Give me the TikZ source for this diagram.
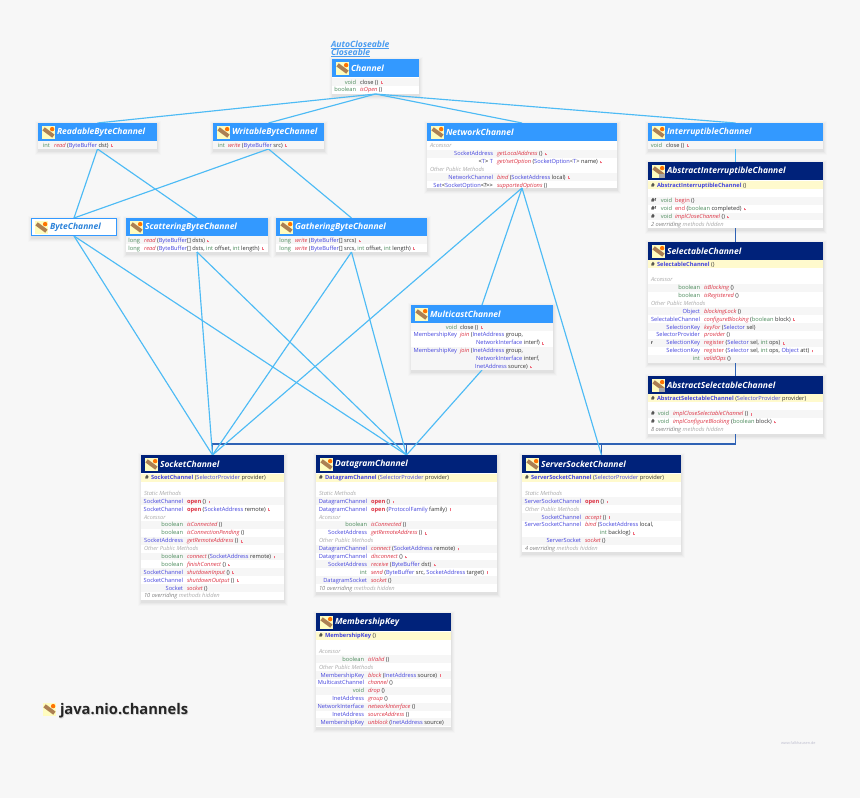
\documentclass[tikz,border=0pt]{standalone}
\usepackage{fontspec}
\setmainfont{Open Sans}
\definecolor{pagebg}{HTML}{F7F7F7}
\definecolor{ifhead}{HTML}{3399FF}
\definecolor{clhead}{HTML}{00227A}
\definecolor{implline}{HTML}{4DBBF5}
\definecolor{extline}{HTML}{2F62B5}
\definecolor{prim}{HTML}{4A8A5A}
\definecolor{ctype}{HTML}{4444DD}
\definecolor{meth}{HTML}{DD3344}
\definecolor{args}{HTML}{333333}
\definecolor{secg}{HTML}{AAAAAA}
\definecolor{stripec}{HTML}{F6F6F6}
\definecolor{ctorbg}{HTML}{FFFACD}
\definecolor{flagc}{HTML}{F07080}
\definecolor{linkc}{HTML}{4A9CF0}
\newcommand{\rowfont}{\fontsize{5.7}{6}\selectfont}
\tikzset{
  classbox/.style={rectangle,fill=white,draw=none,inner sep=0pt,outer sep=0pt},
  impl/.style={draw=implline,line width=1.15pt},
  ext/.style={draw=extline,line width=1.4pt},
  rettext/.style={anchor=base east,inner sep=0pt,outer sep=0pt,font=\rowfont},
  sigtext/.style={anchor=base west,inner sep=0pt,outer sep=0pt,font=\rowfont,text=args},
  titletext/.style={anchor=west,inner sep=0pt,outer sep=0pt,text=white,font=\fontsize{8.5}{9}\selectfont\bfseries\itshape},
  linktext/.style={anchor=base west,inner sep=0pt,outer sep=0pt,text=linkc,font=\fontsize{8.6}{9}\selectfont\bfseries\itshape},
}
\newcommand{\Pt}[1]{\textcolor{prim}{#1}}
\newcommand{\Ct}[1]{\textcolor{ctype}{#1}}
\newcommand{\Mt}[1]{\textcolor{meth}{\itshape #1}}
\newcommand{\Ot}[1]{\textcolor{meth}{#1}}
\newcommand{\St}[1]{\textcolor{meth}{\bfseries #1}}
\newcommand{\Fl}{\kern1pt\textcolor{flagc}{\rule[0.2pt]{0.45pt}{2.6pt}\kern0.3pt\rule[0.2pt]{1pt}{1pt}}}
\newcount\nodeno
\newif\ifstripe
\newcommand{\nextname}{\global\advance\nodeno by 1 }
% class box (phase 1)
\newcommand{\Cls}[5]{%
  \foreach \k/\o in {4/.012,3/.018,2/.025,1/.03}{\fill[black,opacity=\o] ({#2-\k+.5},{#3-\k+1.5}) rectangle ({#4+\k-.5},{#5+\k+1.5});}
  \node[classbox,minimum width={(#4-(#2))*1pt},minimum height={(#5-(#3))*1pt}] (#1) at ({(#2+#4)/2},{(#3+#5)/2}) {};
}
% icon
\newcommand{\Ico}[4][0]{%
  \fill[white!60!gray] (#2,#3) rectangle ({#2+#4},{#3+#4});
  \fill[yellow!25!white] ({#2+.4},{#3+.4}) rectangle ({#2+#4-.4},{#3+#4-.4});
  \draw[line width={.3*#4*1pt},color=brown!70!gray] ({#2+.12*#4},{#3+.22*#4}) -- ({#2+.88*#4},{#3+.78*#4});
  \fill[orange!90!red] ({#2+.78*#4},{#3+.24*#4}) circle ({.17*#4});
  \ifnum#1=1 \fill[gray!70!white] ({#2+.5*#4},{#3+.72*#4}) rectangle ({#2+#4},{#3+#4});\fi
}
% header
\newcommand{\Head}[7][0]{% abstract?, name, x1,y1,x2,colour,title
  \fill[#6] (#3,#4) rectangle (#5,{#4+18});
  \pgfmathsetmacro\icx{#3+4}\pgfmathsetmacro\icy{#4+3}%
  \Ico[#1]{\icx}{\icy}{13}
  \node[titletext] (#2-title) at ({#3+19},{#4+9.4}) {#7};
}
\newcommand{\Setup}[5]{\def\curL{#1}\def\curRr{#2}\def\curRet{#3}\def\curM{#4}\def\curB{#5}\global\stripetrue}
\newcommand{\rowh}{7.88}
\newcommand{\Stripe}{\fill[stripec] (\curL,{\yy-3.94}) rectangle (\curRr,{\yy+3.94});}
\newcommand{\R}[3]{%
  \pgfmathsetmacro\yy{\curB+#1*\rowh}%
  \ifstripe\Stripe\global\stripefalse\else\global\stripetrue\fi
  \nextname\node[rettext] (r\the\nodeno) at (\curRet,{\yy+2}) {#2};
  \nextname\node[sigtext] (s\the\nodeno) at (\curM,{\yy+2}) {#3};
}
\newcommand{\Rc}[3]{%
  \pgfmathsetmacro\yy{\curB+#1*\rowh}%
  \ifstripe\else\Stripe\fi
  \nextname\node[sigtext] (c\the\nodeno) at (#2,{\yy+2}) {#3};
}
\newcommand{\Sec}[2]{%
  \pgfmathsetmacro\yy{\curB+#1*\rowh}%
  \global\stripetrue
  \nextname\node[sigtext,text=secg,font=\rowfont\itshape] (h\the\nodeno) at ({\curL+3},{\yy+2}) {#2};
}
\newcommand{\Ctor}[3]{% index, x of hash, text
  \pgfmathsetmacro\yy{\curB+#1*\rowh}%
  \fill[ctorbg] (\curL,{\yy-3.94}) rectangle (\curRr,{\yy+3.94});
  \nextname\node[sigtext,text=args,font=\rowfont\bfseries] (h\the\nodeno) at (#2,{\yy+2}) {\#};
  \nextname\node[sigtext] (s\the\nodeno) at ({#2+6},{\yy+2}) {#3};
  \global\stripetrue
}
\newcommand{\Mod}[3]{% index, x, mark
  \pgfmathsetmacro\yy{\curB+#1*\rowh}%
  \nextname\node[sigtext,font=\rowfont\bfseries] (m\the\nodeno) at (#2,{\yy+2}) {#3};
}
\newcommand{\Over}[3]{% index, count, text
  \pgfmathsetmacro\yy{\curB+#1*\rowh}%
  \nextname\node[sigtext,text=gray,font=\rowfont\itshape] (h\the\nodeno) at ({\curL+3},{\yy+2}) {#2 overriding \textcolor{secg}{#3}};
}
\begin{document}
\begin{tikzpicture}[x=1pt,y=-1pt]
\useasboundingbox (0,0) rectangle (860,798);
\fill[pagebg] (0,0) rectangle (860,798);
% ---------- boxes
\Cls{channel}{332}{59}{419}{94}
\Cls{readable}{38}{123}{157}{149}
\Cls{writable}{213}{123}{324}{149}
\Cls{network}{427}{123}{617}{188}
\Cls{interruptible}{648}{123}{823}{149}
\Cls{absint}{648}{162}{823}{228}
\Cls{selectable}{648}{242}{823}{362}
\Cls{abssel}{648}{376}{823}{434}
\Cls{multicast}{411}{305}{553}{370}
\Cls{bytechannel}{31}{218}{117}{236}
\Cls{scattering}{126}{218}{268}{252}
\Cls{gathering}{276}{218}{427}{252}
\Cls{socket}{141}{455}{284}{600}
\Cls{datagram}{316}{455}{497}{592}
\Cls{server}{522}{455}{681}{552}
\Cls{membership}{316}{613}{451}{727}
% ---------- connectors
\coordinate (bus) at (735.5,444);
\draw[ext] (absint.south) -- (selectable.north);
\draw[ext] (selectable.south) -- (abssel.north);
\draw[ext] (abssel.south) -- (bus) -- (socket.north |- bus) -- (socket.north);
\draw[ext] (datagram.north |- bus) -- (datagram.north);
\draw[ext] (server.north |- bus) -- (server.north);
\draw[impl] (channel.south) -- (readable.north);
\draw[impl] (channel.south) -- (writable.north);
\draw[impl] (channel.south) -- (network.north);
\draw[impl] (channel.south) -- (interruptible.north);
\draw[impl] (readable.south) -- (bytechannel.north);
\draw[impl] (readable.south) -- (scattering.north);
\draw[impl] (writable.south) -- (bytechannel.north);
\draw[impl] (writable.south) -- (gathering.north);
\draw[impl] (interruptible.south) -- (absint.north);
\draw[impl] (bytechannel.south) -- (socket.north);
\draw[impl] (bytechannel.south) -- (datagram.north);
\draw[impl] (scattering.south) -- (socket.north);
\draw[impl] (scattering.south) -- (datagram.north);
\draw[impl] (gathering.south) -- (socket.north);
\draw[impl] (gathering.south) -- (datagram.north);
\draw[impl] (network.south) -- (multicast.north);
\draw[impl] (network.south) -- (socket.north);
\draw[impl] (network.south) -- (server.north);
\draw[impl] (multicast.south) -- (datagram.north);
% ---------- link labels
\node[linktext] (autocloseable) at (331,47) {\underline{AutoCloseable}};
\node[linktext] (closeable) at (331,55) {\underline{Closeable}};
% ---------- Channel
\Head{channel}{332}{59}{419}{ifhead}{Channel}
\Setup{332}{419}{356}{360}{82}
\R{0}{\Pt{void}}{close () \Fl}
\R{1}{\Pt{boolean}}{\Mt{isOpen} ()}
% ---------- ReadableByteChannel
\Head{readable}{38}{123}{157}{ifhead}{ReadableByteChannel}
\Setup{38}{157}{50}{54}{145}
\R{0}{\Pt{int}}{\Mt{read} (\Ct{ByteBuffer} dst) \Fl}
% ---------- WritableByteChannel
\Head{writable}{213}{123}{324}{ifhead}{WritableByteChannel}
\Setup{213}{324}{225}{228}{145}
\R{0}{\Pt{int}}{\Mt{write} (\Ct{ByteBuffer} src) \Fl}
% ---------- NetworkChannel
\Head{network}{427}{123}{617}{ifhead}{NetworkChannel}
\Setup{427}{617}{493}{497}{145.7}
\Sec{0}{Accessor}
\R{1}{\Ct{SocketAddress}}{\Mt{getLocalAddress} () \Fl}
\R{2}{<\Ct{T}> \Ct{T}}{\Mt{get/setOption} (\Ct{SocketOption}<\Ct{T}> name) \Fl}
\Sec{3}{Other Public Methods}
\R{4}{\Ct{NetworkChannel}}{\Mt{bind} (\Ct{SocketAddress} local) \Fl}
\R{5}{\Ct{Set}<\Ct{SocketOption}<?>{}>}{\Mt{supportedOptions} ()}
% ---------- InterruptibleChannel
\Head{interruptible}{648}{123}{823}{ifhead}{InterruptibleChannel}
\Setup{648}{823}{662}{666}{145}
\R{0}{\Pt{void}}{close () \Fl}
% ---------- AbstractInterruptibleChannel
\Head[1]{absint}{648}{162}{823}{clhead}{AbstractInterruptibleChannel}
\Setup{648}{823}{672}{675}{185}
\Ctor{0}{651}{\textcolor{ctype}{\bfseries AbstractInterruptibleChannel} ()}
\R{2}{\Pt{void}}{\Ot{begin} ()}
\Mod{2}{651}{\#\raisebox{1pt}{\fontsize{4}{4}\selectfont f}}
\R{3}{\Pt{void}}{\Ot{end} (\Pt{boolean} completed) \Fl}
\Mod{3}{651}{\#\raisebox{1pt}{\fontsize{4}{4}\selectfont f}}
\R{4}{\Pt{void}}{\Mt{implCloseChannel} () \Fl}
\Mod{4}{651}{\#}
\Over{5}{2}{methods hidden}
% ---------- SelectableChannel
\Head{selectable}{648}{242}{823}{clhead}{SelectableChannel}
\Setup{648}{823}{700}{704}{264}
\Ctor{0}{651}{\textcolor{ctype}{\bfseries SelectableChannel} ()}
\Sec{2}{Accessor}
\R{3}{\Pt{boolean}}{\Mt{isBlocking} ()}
\R{4}{\Pt{boolean}}{\Mt{isRegistered} ()}
\Sec{5}{Other Public Methods}
\R{6}{\Ct{Object}}{\Mt{blockingLock} ()}
\R{7}{\Ct{SelectableChannel}}{\Mt{configureBlocking} (\Pt{boolean} block) \Fl}
\R{8}{\Ct{SelectionKey}}{\Mt{keyFor} (\Ct{Selector} sel)}
\R{9}{\Ct{SelectorProvider}}{\Mt{provider} ()}
\R{10}{\Ct{SelectionKey}}{\Ot{register} (\Ct{Selector} sel, \Pt{int} ops) \Fl}
\Mod{10}{651}{\fontsize{4}{4}\selectfont f}
\R{11}{\Ct{SelectionKey}}{\Ot{register} (\Ct{Selector} sel, \Pt{int} ops, \Ct{Object} att) \Fl}
\R{12}{\Pt{int}}{\Mt{validOps} ()}
% ---------- AbstractSelectableChannel
\Head[1]{abssel}{648}{376}{823}{clhead}{AbstractSelectableChannel}
\Setup{648}{823}{669}{673}{398}
\Ctor{0}{651}{\textcolor{ctype}{\bfseries AbstractSelectableChannel} (\Ct{SelectorProvider} provider)}
\R{2}{\Pt{void}}{\Mt{implCloseSelectableChannel} () \Fl}
\Mod{2}{651}{\#}
\R{3}{\Pt{void}}{\Mt{implConfigureBlocking} (\Pt{boolean} block) \Fl}
\Mod{3}{651}{\#}
\Over{4}{8}{methods hidden}
% ---------- MulticastChannel
\Head{multicast}{411}{305}{553}{ifhead}{MulticastChannel}
\Setup{411}{553}{457}{460}{327}
\R{0}{\Pt{void}}{close () \Fl}
\R{1}{\Ct{MembershipKey}}{\Mt{join} (\Ct{InetAddress} group,}
\Rc{2}{476}{\Ct{NetworkInterface} interf) \Fl}
\R{3}{\Ct{MembershipKey}}{\Mt{join} (\Ct{InetAddress} group,}
\Rc{4}{476}{\Ct{NetworkInterface} interf,}
\Rc{5}{475}{\Ct{InetAddress} source) \Fl}
% ---------- ByteChannel
\draw[draw=ifhead,line width=1.2pt] (31.6,218.6) rectangle (116.4,235.4);
\Ico{35}{221}{13}
\node[titletext,text=ifhead!85!black] (bytechannel-title) at (50,227.4) {ByteChannel};
% ---------- ScatteringByteChannel
\Head{scattering}{126}{218}{268}{ifhead}{ScatteringByteChannel}
\Setup{126}{268}{140}{144}{240.3}
\R{0}{\Pt{long}}{\Mt{read} (\Ct{ByteBuffer}[] dsts) \Fl}
\R{1}{\Pt{long}}{\Mt{read} (\Ct{ByteBuffer}[] dsts, \Pt{int} offset, \Pt{int} length) \Fl}
% ---------- GatheringByteChannel
\Head{gathering}{276}{218}{427}{ifhead}{GatheringByteChannel}
\Setup{276}{427}{291}{295}{240.3}
\R{0}{\Pt{long}}{\Mt{write} (\Ct{ByteBuffer}[] srcs) \Fl}
\R{1}{\Pt{long}}{\Mt{write} (\Ct{ByteBuffer}[] srcs, \Pt{int} offset, \Pt{int} length) \Fl}
% ---------- SocketChannel
\Head{socket}{141}{455}{284}{clhead}{SocketChannel}
\Setup{141}{284}{183}{187}{477.7}
\Ctor{0}{145}{\textcolor{ctype}{\bfseries SocketChannel} (\Ct{SelectorProvider} provider)}
\Sec{2}{Static Methods}
\R{3}{\Ct{SocketChannel}}{\St{open} () \Fl}
\R{4}{\Ct{SocketChannel}}{\St{open} (\Ct{SocketAddress} remote) \Fl}
\Sec{5}{Accessor}
\R{6}{\Pt{boolean}}{\Mt{isConnected} ()}
\R{7}{\Pt{boolean}}{\Mt{isConnectionPending} ()}
\R{8}{\Ct{SocketAddress}}{\Mt{getRemoteAddress} () \Fl}
\Sec{9}{Other Public Methods}
\R{10}{\Pt{boolean}}{\Mt{connect} (\Ct{SocketAddress} remote) \Fl}
\R{11}{\Pt{boolean}}{\Mt{finishConnect} () \Fl}
\R{12}{\Ct{SocketChannel}}{\Mt{shutdownInput} () \Fl}
\R{13}{\Ct{SocketChannel}}{\Mt{shutdownOutput} () \Fl}
\R{14}{\Ct{Socket}}{\Mt{socket} ()}
\Over{15}{10}{methods hidden}
% ---------- DatagramChannel
\Head{datagram}{316}{455}{497}{clhead}{DatagramChannel}
\Setup{316}{497}{367}{371}{477.7}
\Ctor{0}{319}{\textcolor{ctype}{\bfseries DatagramChannel} (\Ct{SelectorProvider} provider)}
\Sec{2}{Static Methods}
\R{3}{\Ct{DatagramChannel}}{\St{open} () \Fl}
\R{4}{\Ct{DatagramChannel}}{\St{open} (\Ct{ProtocolFamily} family) \Fl}
\Sec{5}{Accessor}
\R{6}{\Pt{boolean}}{\Mt{isConnected} ()}
\R{7}{\Ct{SocketAddress}}{\Mt{getRemoteAddress} () \Fl}
\Sec{8}{Other Public Methods}
\R{9}{\Ct{DatagramChannel}}{\Mt{connect} (\Ct{SocketAddress} remote) \Fl}
\R{10}{\Ct{DatagramChannel}}{\Mt{disconnect} () \Fl}
\R{11}{\Ct{SocketAddress}}{\Mt{receive} (\Ct{ByteBuffer} dst) \Fl}
\R{12}{\Pt{int}}{\Mt{send} (\Ct{ByteBuffer} src, \Ct{SocketAddress} target) \Fl}
\R{13}{\Ct{DatagramSocket}}{\Mt{socket} ()}
\Over{14}{10}{methods hidden}
% ---------- ServerSocketChannel
\Head{server}{522}{455}{681}{clhead}{ServerSocketChannel}
\Setup{522}{681}{581}{585}{477.7}
\Ctor{0}{525}{\textcolor{ctype}{\bfseries ServerSocketChannel} (\Ct{SelectorProvider} provider)}
\Sec{2}{Static Methods}
\R{3}{\Ct{ServerSocketChannel}}{\St{open} () \Fl}
\Sec{4}{Other Public Methods}
\R{5}{\Ct{SocketChannel}}{\Mt{accept} () \Fl}
\R{6}{\Ct{ServerSocketChannel}}{\Mt{bind} (\Ct{SocketAddress} local,}
\Rc{7}{600}{\Pt{int} backlog) \Fl}
\R{8}{\Ct{ServerSocket}}{\Mt{socket} ()}
\Over{9}{4}{methods hidden}
% ---------- MembershipKey
\Head{membership}{316}{613}{451}{clhead}{MembershipKey}
\Setup{316}{451}{364}{368}{635.7}
\Ctor{0}{319}{\textcolor{ctype}{\bfseries MembershipKey} ()}
\Sec{2}{Accessor}
\R{3}{\Pt{boolean}}{\Mt{isValid} ()}
\Sec{4}{Other Public Methods}
\R{5}{\Ct{MembershipKey}}{\Mt{block} (\Ct{InetAddress} source) \Fl}
\R{6}{\Ct{MulticastChannel}}{\Mt{channel} ()}
\R{7}{\Pt{void}}{\Mt{drop} ()}
\R{8}{\Ct{InetAddress}}{\Mt{group} ()}
\R{9}{\Ct{NetworkInterface}}{\Mt{networkInterface} ()}
\R{10}{\Ct{InetAddress}}{\Mt{sourceAddress} ()}
\R{11}{\Ct{MembershipKey}}{\Mt{unblock} (\Ct{InetAddress} source)}
% ---------- page title
\Ico{43}{703}{13}
\node[anchor=west,inner sep=0pt,outer sep=0pt,text=black!30,opacity=.5,font=\fontsize{14.7}{16}\selectfont\bfseries] (pagetitle-shadow) at (60.8,711.3) {java.nio.channels};
\node[anchor=west,inner sep=0pt,outer sep=0pt,text=black!85,font=\fontsize{14.7}{16}\selectfont\bfseries] (pagetitle) at (60,710.5) {java.nio.channels};
\node[anchor=west,inner sep=0pt,outer sep=0pt,text=blue!15!gray!45,font=\fontsize{3.8}{4}\selectfont] (watermark) at (781,743) {www.falkhausen.de};
\end{tikzpicture}
\end{document}
